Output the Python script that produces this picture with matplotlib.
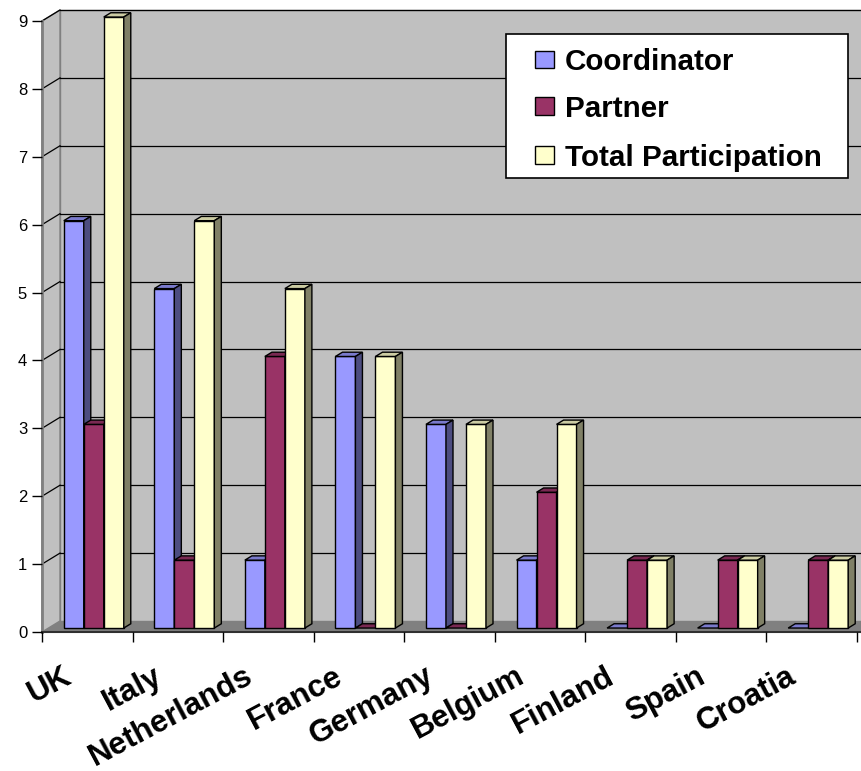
import matplotlib
matplotlib.use("Agg")
import matplotlib.pyplot as plt
from matplotlib.patches import Polygon, Rectangle
from matplotlib.transforms import ScaledTranslation
import numpy as np

countries = ["UK", "Italy", "Netherlands", "France", "Germany", "Belgium",
             "Finland", "Spain", "Croatia"]
coordinator = [6, 5, 1, 4, 3, 1, 0, 0, 0]
partner = [3, 1, 4, 0, 0, 2, 1, 1, 1]
total = [9, 6, 5, 4, 3, 3, 1, 1, 1]
series_names = ["Coordinator", "Partner", "Total Participation"]
series_colors = ["#9999FF", "#993366", "#FFFFCC"]
yticks = list(range(0, 10))

W, H = 862, 771
fig = plt.figure(figsize=(W / 100, H / 100), dpi=100)
fig.patch.set_facecolor("white")

x0px, x1px, y0px, y1px = 42, 857, 632, 21
ax = fig.add_axes([x0px / W, 1 - y0px / H, (x1px - x0px) / W, (y0px - y1px) / H])
n = len(countries)
ymax = 9
ax.set_xlim(0, n)
ax.set_ylim(0, ymax)
ax.patch.set_visible(False)
for sp in ax.spines.values():
    sp.set_visible(False)

ux = (x1px - x0px) / n          # pixels per category
uy = (y0px - y1px) / ymax       # pixels per value unit
ddx = 18 / ux                   # wall depth in data units
ddy = 11 / uy

wall_c = "#C0C0C0"
floor_c = "#808080"
edge_gray = "#808080"

# back wall
ax.add_patch(Polygon([(ddx, ddy), (n + ddx + 1, ddy), (n + ddx + 1, ymax + ddy), (ddx, ymax + ddy)],
                     closed=True, facecolor=wall_c, edgecolor=edge_gray, lw=1, zorder=0, clip_on=False))
# left side wall
ax.add_patch(Polygon([(0, 0), (ddx, ddy), (ddx, ymax + ddy), (0, ymax)],
                     closed=True, facecolor=wall_c, edgecolor=edge_gray, lw=1, zorder=0.5, clip_on=False))
# floor
ax.add_patch(Polygon([(0, 0), (n + 1, 0), (n + 1 + ddx, ddy), (ddx, ddy)],
                     closed=True, facecolor=floor_c, edgecolor="none", lw=0, zorder=0.6, clip_on=False))

# gridlines
for v in yticks[1:]:
    ax.plot([ddx, n + ddx + 1], [v + ddy, v + ddy], color="black", lw=0.9, zorder=1, clip_on=False)
    ax.plot([0, ddx], [v, v + ddy], color="black", lw=0.9, zorder=1, clip_on=False)

# front axis lines
ax.plot([0, 0], [0, ymax], color=edge_gray, lw=2, zorder=1.2, clip_on=False)
ax.plot([0, n + 1], [0, 0], color="#303030", lw=1.5, zorder=1.2, clip_on=False)

# bars
f1, f2 = 0.36, 0.75
bw = 20 / ux
bx_off = f1 * ddx
by_off = f1 * ddy
bdx = (f2 - f1) * ddx
bdy = (f2 - f1) * ddy
data = [coordinator, partner, total]


def shade(c, k):
    c = np.array(matplotlib.colors.to_rgb(c))
    return tuple(c * k)


z = 2
for i in range(n):
    for j, (vals, col) in enumerate(zip(data, series_colors)):
        xc = i + 0.5 + (j - 1) * bw + bx_off
        rects = ax.bar([xc], [vals[i]], width=bw, bottom=by_off, color=col,
                       edgecolor="black", lw=1, zorder=z, clip_on=False)
        r = rects[0]
        xl, yb = r.get_x(), r.get_y()
        xr, yt = xl + r.get_width(), yb + r.get_height()
        top = Polygon([(xl, yt), (xr, yt), (xr + bdx, yt + bdy), (xl + bdx, yt + bdy)],
                      closed=True, facecolor=shade(col, 0.8), edgecolor="black", lw=1,
                      zorder=z + 0.1, clip_on=False)
        side = Polygon([(xr, yb), (xr + bdx, yb + bdy), (xr + bdx, yt + bdy), (xr, yt)],
                       closed=True, facecolor=shade(col, 0.5), edgecolor="black", lw=1,
                       zorder=z + 0.1, clip_on=False)
        ax.add_patch(top)
        ax.add_patch(side)
        if vals[i] == 0:
            r.set_visible(False)
            side.set_visible(False)
        z += 1

# y axis ticks
ax.set_yticks(yticks)
ax.set_yticklabels([str(v) for v in yticks], fontsize=12, family="Liberation Sans")
ax.tick_params(axis="y", direction="out", length=7.2, width=1, color="black", pad=3.5)

# x axis: boundary ticks (minor), labels at centers (major)
ax.set_xticks(np.arange(n + 1), minor=True)
ax.set_xticks(np.arange(n) + 0.5)
ax.set_xticklabels(countries, fontsize=22.5, fontweight="bold", family="Liberation Sans",
                   rotation=28, rotation_mode="anchor", ha="right", va="top")
ax.tick_params(axis="x", which="major", length=0, pad=21)
ax.tick_params(axis="x", which="minor", direction="out", length=7.2, width=1, color="black")
for lab in ax.get_xticklabels():
    lab.set_transform(lab.get_transform() + ScaledTranslation(-0.25, 0, fig.dpi_scale_trans))

# legend (drawn manually to match the original frame)
lx0, ly0, lx1, ly1 = 506, 34, 848, 178
fig.patches.append(Rectangle((lx0 / W, 1 - ly1 / H), (lx1 - lx0) / W, (ly1 - ly0) / H,
                             transform=fig.transFigure, facecolor="white", edgecolor="black",
                             lw=1.2, zorder=50))
row_y = [59.5, 106, 155]
for name, col, ry in zip(series_names, series_colors, row_y):
    fig.patches.append(Rectangle((535 / W, 1 - (ry + 8.5) / H), 19 / W, 17 / H,
                                 transform=fig.transFigure, facecolor=col, edgecolor="black",
                                 lw=1, zorder=51))
    fig.text(565 / W, 1 - ry / H, name, fontsize=21.3, fontweight="bold",
             family="Liberation Sans", ha="left", va="center_baseline", zorder=52)

fig.savefig("out.png", dpi=100)
